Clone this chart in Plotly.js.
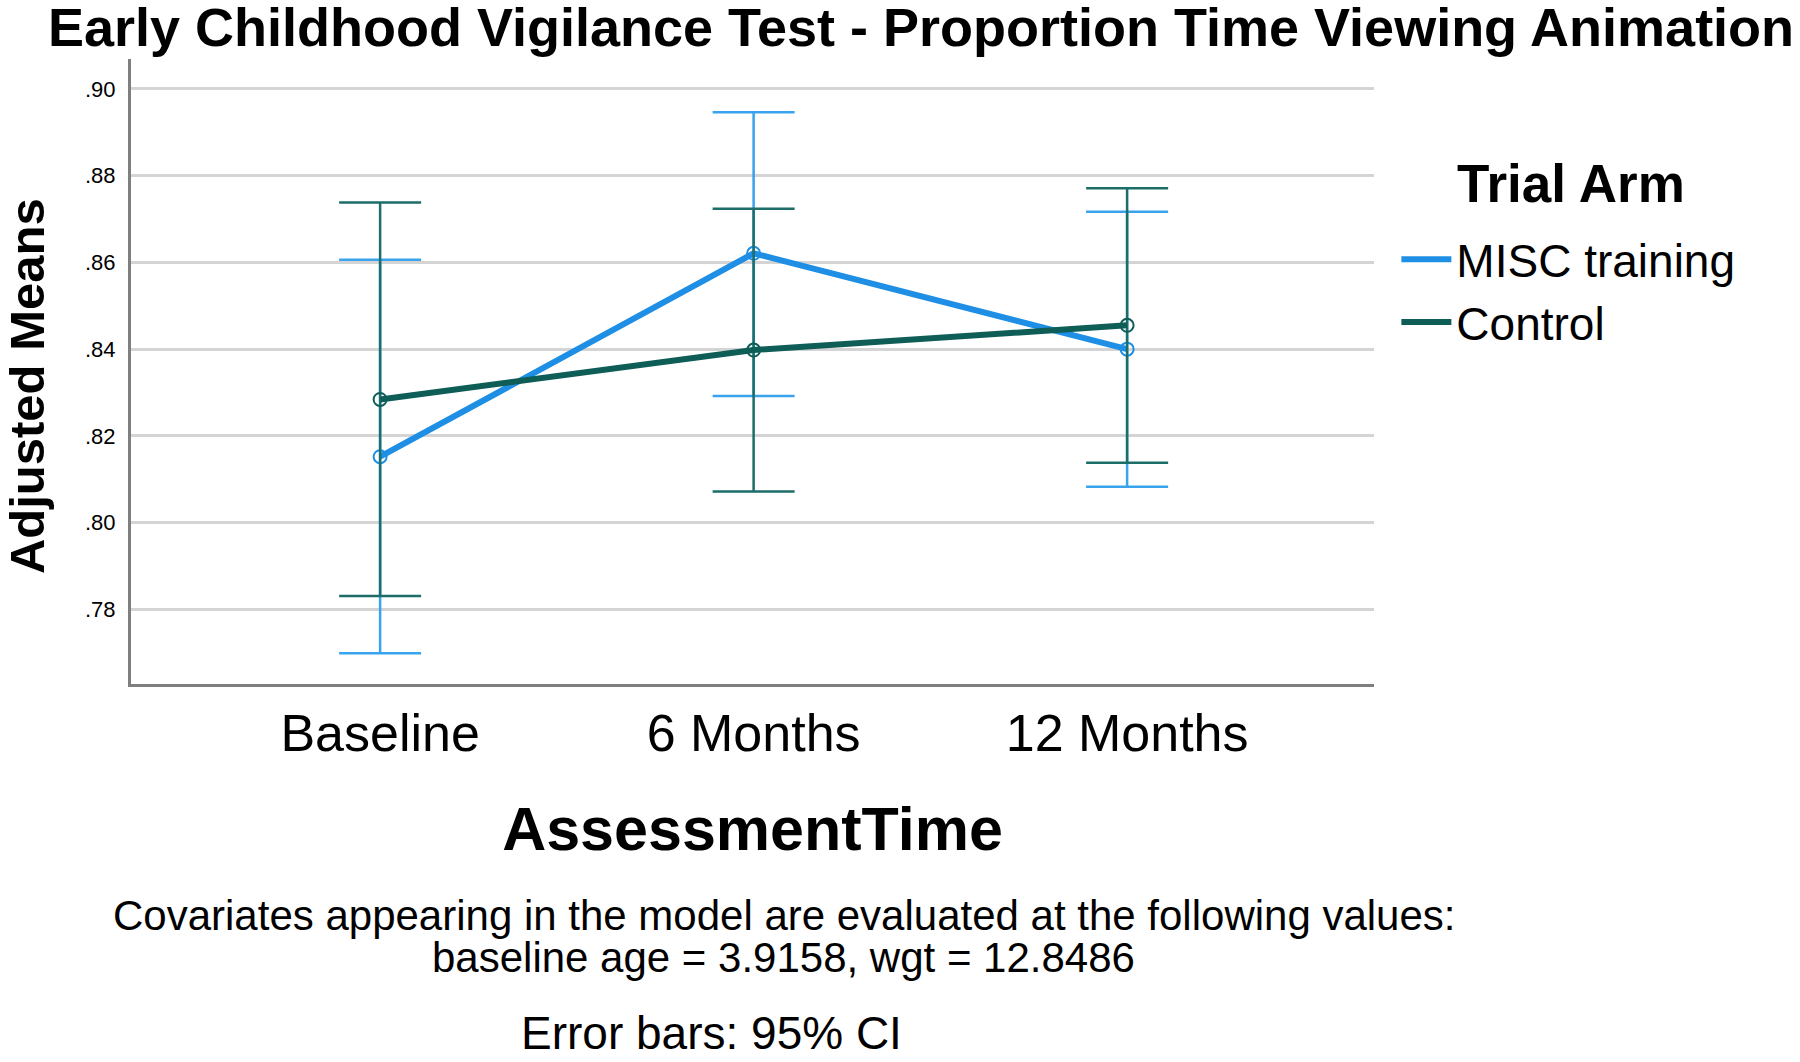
<!DOCTYPE html>
<html>
<head>
<meta charset="utf-8">
<script src="https://cdn.plot.ly/plotly-3.0.1.min.js"></script>
<style>html,body{margin:0;padding:0;background:#fff;}#chart{width:1800px;height:1062px;}</style>
</head>
<body>
<div id="chart"></div>
<script>
// Categories and tick labels
var categories = ['Baseline', '6 Months', '12 Months'];
var yTickVals = [0.78, 0.80, 0.82, 0.84, 0.86, 0.88, 0.90];
var yTickText = ['.78', '.80', '.82', '.84', '.86', '.88', '.90'];

// MISC training: adjusted means and 95% CI
var miscMean  = [0.8152, 0.8621, 0.8400];
var miscLower = [0.7699, 0.8292, 0.8083];
var miscUpper = [0.8606, 0.8946, 0.8717];

// Control: adjusted means and 95% CI
var ctrlMean  = [0.8284, 0.8398, 0.8455];
var ctrlLower = [0.7831, 0.8072, 0.8138];
var ctrlUpper = [0.8738, 0.8724, 0.8771];

var blue = '#1e8fe4', blueBar = '#3aa3ee';
var teal = '#0e5d57', tealBar = '#1d6e69';
var FONT = 'Liberation Sans, Arial, sans-serif';

function diff(a, b) { return a.map(function (v, i) { return v - b[i]; }); }

var traces = [
  {
    x: categories, y: miscMean, name: 'MISC training', mode: 'lines',
    line: {color: blue, width: 6},
    error_y: {type: 'data', symmetric: false, array: diff(miscUpper, miscMean), arrayminus: diff(miscMean, miscLower),
              color: blueBar, thickness: 2.5, width: 41},
    hoverinfo: 'skip'
  },
  {
    x: categories, y: miscMean, mode: 'markers', showlegend: false,
    marker: {symbol: 'circle-open', size: 13, color: blue, line: {width: 2, color: blue}}
  },
  {
    x: categories, y: ctrlMean, name: 'Control', mode: 'lines',
    line: {color: teal, width: 6},
    error_y: {type: 'data', symmetric: false, array: diff(ctrlUpper, ctrlMean), arrayminus: diff(ctrlMean, ctrlLower),
              color: tealBar, thickness: 2.5, width: 41},
    hoverinfo: 'skip'
  },
  {
    x: categories, y: ctrlMean, mode: 'markers', showlegend: false,
    marker: {symbol: 'circle-open', size: 13, color: teal, line: {width: 2, color: teal}}
  }
];

var layout = {
  width: 1800, height: 1062,
  margin: {l: 131, r: 426, t: 59, b: 378, pad: 0},
  paper_bgcolor: '#ffffff', plot_bgcolor: '#ffffff',
  font: {family: FONT, color: '#000000'},
  title: {
    text: '<b>Early Childhood Vigilance Test - Proportion Time Viewing Animation</b>',
    font: {family: FONT, size: 54, color: '#000000'},
    x: 921 / 1800, xanchor: 'center', xref: 'container',
    y: 1 - 27 / 1062, yanchor: 'middle', yref: 'container'
  },
  xaxis: {
    type: 'category', range: [-0.667, 2.661],
    showline: true, linecolor: '#7f7f7f', linewidth: 3,
    showgrid: false, zeroline: false, ticks: '',
    tickfont: {family: FONT, size: 52, color: '#000000'},
    ticklabelstandoff: 2,
    title: {text: '<b>AssessmentTime</b>', font: {family: FONT, size: 61, color: '#000000'}, standoff: 46}
  },
  yaxis: {
    range: [0.7628, 0.9069],
    tickvals: yTickVals, ticktext: yTickText,
    showline: true, linecolor: '#7f7f7f', linewidth: 3,
    showgrid: true, gridcolor: '#d4d4d4', gridwidth: 3,
    zeroline: false, ticks: '',
    tickfont: {family: FONT, size: 22, color: '#000000'},
    ticklabelstandoff: 8
  },
  showlegend: true,
  legend: {
    x: 1.018, xanchor: 'left', y: 0.738, yanchor: 'top',
    font: {family: FONT, size: 46, color: '#000000'},
    itemwidth: 50, bgcolor: 'rgba(0,0,0,0)', borderwidth: 0, tracegroupgap: 0
  },
  annotations: [
    {text: '<b>Adjusted Means</b>', xref: 'paper', yref: 'paper', x: -0.0835, y: 0.477, xanchor: 'center', yanchor: 'middle',
     textangle: -90, showarrow: false, font: {family: FONT, size: 49, color: '#000000'}},
    {text: '<b>Trial Arm</b>', xref: 'paper', yref: 'paper', x: 1.065, y: 0.8, xanchor: 'left', yanchor: 'middle',
     showarrow: false, font: {family: FONT, size: 53, color: '#000000'}},
    {text: 'Covariates appearing in the model are evaluated at the following values:', xref: 'paper', yref: 'paper',
     x: 0.526, y: -0.370, xanchor: 'center', yanchor: 'middle', showarrow: false,
     font: {family: FONT, size: 42, color: '#000000'}},
    {text: 'baseline age = 3.9158, wgt = 12.8486', xref: 'paper', yref: 'paper',
     x: 0.525, y: -0.438, xanchor: 'center', yanchor: 'middle', showarrow: false,
     font: {family: FONT, size: 42, color: '#000000'}},
    {text: 'Error bars: 95% CI', xref: 'paper', yref: 'paper',
     x: 0.467, y: -0.558, xanchor: 'center', yanchor: 'middle', showarrow: false,
     font: {family: FONT, size: 46, color: '#000000'}}
  ]
};

Plotly.newPlot('chart', traces, layout, {staticPlot: true, displayModeBar: false});
</script>
</body>
</html>
